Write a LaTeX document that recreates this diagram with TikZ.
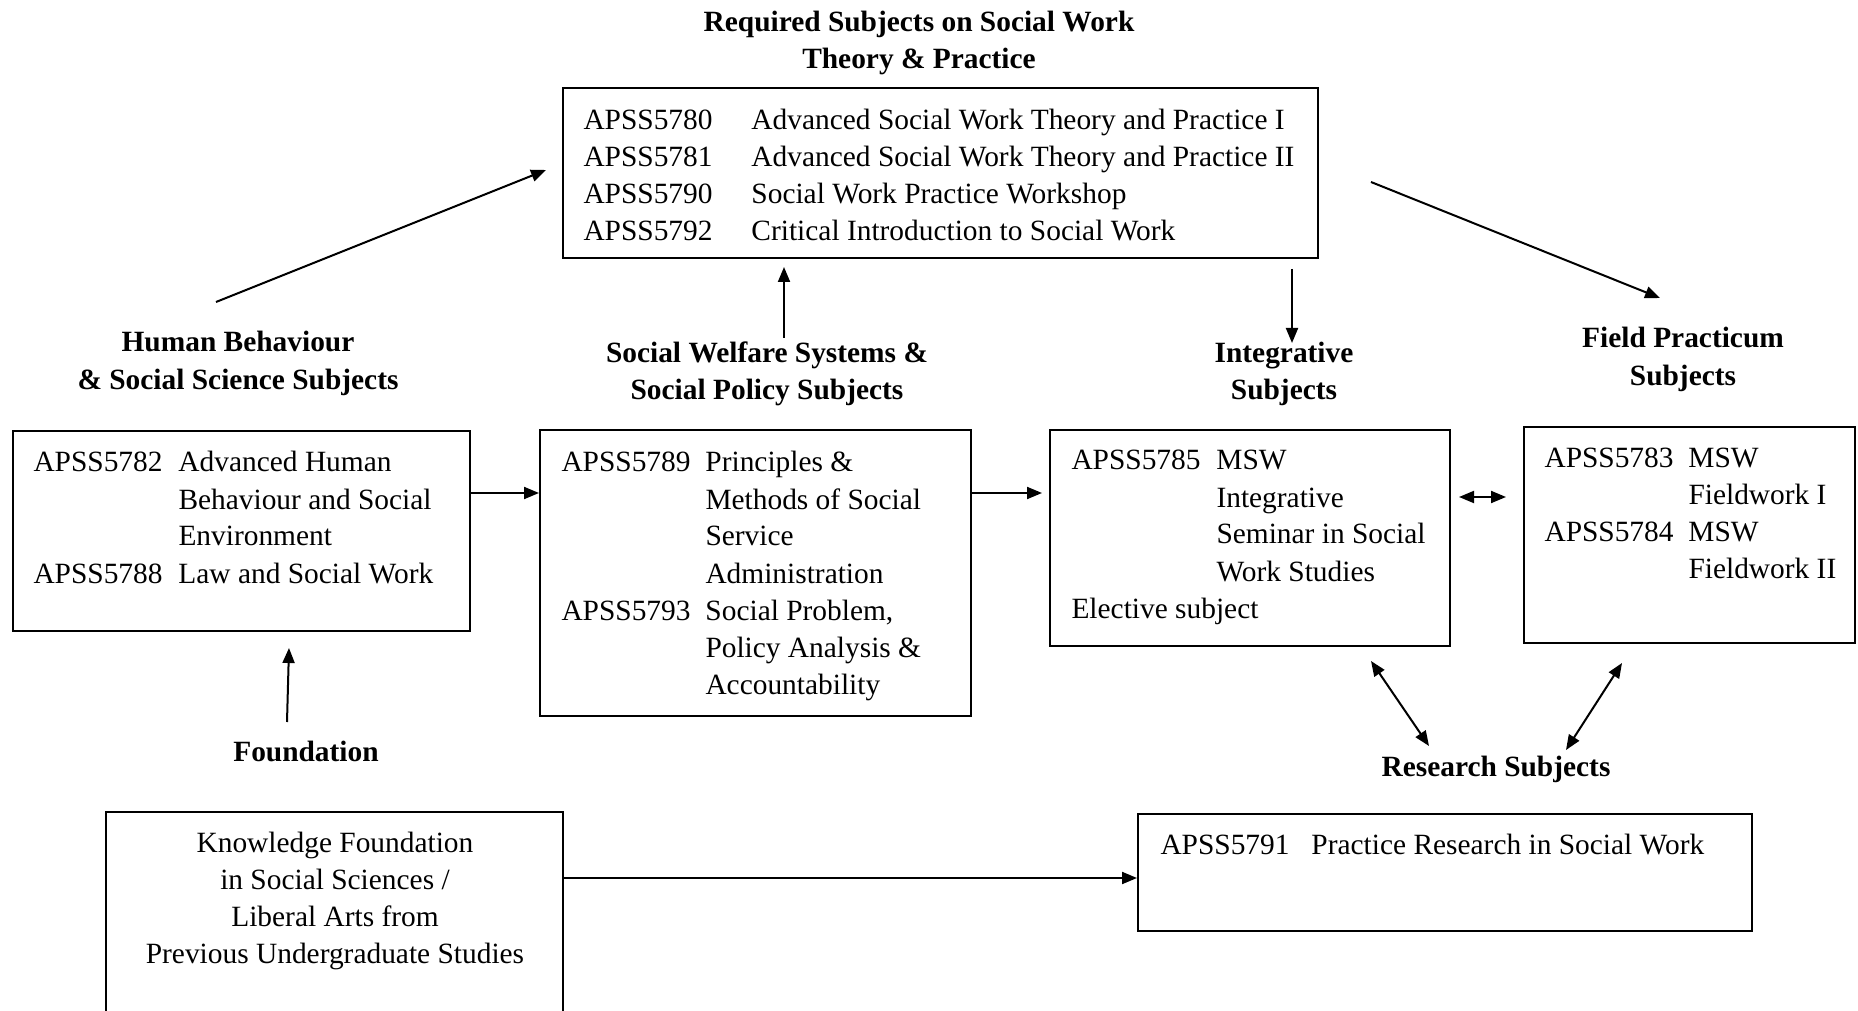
\documentclass[tikz,border=0pt]{standalone}
\usepackage{fontspec}
\setmainfont{Liberation Serif}
\usetikzlibrary{arrows.meta,fit}
\newcommand\myfs{\fontsize{11.76pt}{14.8pt}\selectfont}
\begin{document}
\begin{tikzpicture}[x=0.4pt,y=-0.4pt,
  box/.style={draw,line width=0.8pt,inner sep=0pt},
  arr/.style={line width=0.8pt,-{Triangle[length=6pt,width=4.8pt]}},
  darr/.style={line width=0.8pt,{Triangle[length=6pt,width=4.8pt]}-{Triangle[length=6pt,width=4.8pt]}},
  lbl/.style={anchor=base,inner sep=0pt,font=\bfseries\myfs},
  txt/.style={anchor=base west,inner sep=0pt,font=\myfs}]
\useasboundingbox (0,0) rectangle (1858,1011);
\clip (0,0) rectangle (1858,1011);

% ---- boxes ----
\coordinate (topA) at (563,88);   \coordinate (topB) at (1318,258);
\node[box,fit=(topA)(topB)] (top) {};
\coordinate (hbA) at (13,431);    \coordinate (hbB) at (470,631);
\node[box,fit=(hbA)(hbB)] (hb) {};
\coordinate (swA) at (540,430);   \coordinate (swB) at (971,716);
\node[box,fit=(swA)(swB)] (sw) {};
\coordinate (inA) at (1050,430);  \coordinate (inB) at (1450,646);
\node[box,fit=(inA)(inB)] (int) {};
\coordinate (fpA) at (1524,427);  \coordinate (fpB) at (1855,643);
\node[box,fit=(fpA)(fpB)] (fp) {};
\coordinate (rsA) at (1138,814);  \coordinate (rsB) at (1752,931);
\node[box,fit=(rsA)(rsB)] (rs) {};
\coordinate (kfA) at (106,812);   \coordinate (kfB) at (563,1040);
\node[box,fit=(kfA)(kfB)] (kf) {};

% ---- box contents ----
\node[txt] (topT) at (583,130) {\begin{tabular}[t]{@{}p{67.2pt}@{}l@{}}
APSS5780 & Advanced Social Work Theory and Practice I\\
APSS5781 & Advanced Social Work Theory and Practice II\\
APSS5790 & Social Work Practice Workshop\\
APSS5792 & Critical Introduction to Social Work
\end{tabular}};
\node[txt] (hbT) at (33,472) {\begin{tabular}[t]{@{}p{58pt}@{}l@{}}
APSS5782 & Advanced Human\\
 & Behaviour and Social\\
 & Environment\\
APSS5788 & Law and Social Work
\end{tabular}};
\node[txt] (swT) at (561,472) {\begin{tabular}[t]{@{}p{57.6pt}@{}l@{}}
APSS5789 & Principles \&\\
 & Methods of Social\\
 & Service\\
 & Administration\\
APSS5793 & Social Problem,\\
 & Policy Analysis \&\\
 & Accountability
\end{tabular}};
\node[txt] (inT) at (1071,470) {\begin{tabular}[t]{@{}p{58pt}@{}l@{}}
APSS5785 & MSW\\
 & Integrative\\
 & Seminar in Social\\
 & Work Studies\\
\multicolumn{2}{@{}l@{}}{Elective subject}
\end{tabular}};
\node[txt] (fpT) at (1544,467) {\begin{tabular}[t]{@{}p{57.6pt}@{}l@{}}
APSS5783 & MSW\\
 & Fieldwork I\\
APSS5784 & MSW\\
 & Fieldwork II
\end{tabular}};
\node[txt] (rsT) at (1160,854) {\begin{tabular}[t]{@{}p{60.4pt}@{}l@{}}
APSS5791 & Practice Research in Social Work
\end{tabular}};
\node[anchor=base,inner sep=0pt,font=\myfs] (kfT) at (335,852) {\begin{tabular}[t]{@{}c@{}}
Knowledge Foundation\\
in Social Sciences /\\
Liberal Arts from\\
Previous Undergraduate Studies
\end{tabular}};

% ---- bold labels ----
\node[lbl] (Lreq) at (919,32) {\begin{tabular}[t]{@{}c@{}}Required Subjects on Social Work\\Theory \& Practice\end{tabular}};
\node[lbl] (Lhb) at (238,352) {\begin{tabular}[t]{@{}c@{}}Human Behaviour\\\& Social Science Subjects\end{tabular}};
\node[lbl] (Lsw) at (767,363) {\begin{tabular}[t]{@{}c@{}}Social Welfare Systems \&\\Social Policy Subjects\end{tabular}};
\node[lbl] (Lint) at (1284,363) {\begin{tabular}[t]{@{}c@{}}Integrative\\Subjects\end{tabular}};
\node[lbl] (Lfp) at (1683,348) {\begin{tabular}[t]{@{}c@{}}Field Practicum\\Subjects\end{tabular}};
\node[lbl] (Lrs) at (1496,776) {Research Subjects};
\node[lbl] (Lfd) at (306,761) {Foundation};

% ---- arrow end points ----
\coordinate (a1s) at (216,302);  \coordinate (a1e) at (546,170);
\coordinate (a2s) at (784,338);  \coordinate (a2e) at (784,267);
\coordinate (a3s) at (1292,269); \coordinate (a3e) at (1292,343);
\coordinate (a4s) at (1371,182); \coordinate (a4e) at (1660,298);
\coordinate (h1) at (0,493);
\coordinate (a6e) at (1042,493);
\coordinate (a7s) at (1459,497); \coordinate (a7e) at (1506,497);
\coordinate (a8s) at (1371,661); \coordinate (a8e) at (1429,746);
\coordinate (a9s) at (1622,663); \coordinate (a9e) at (1566,750);
\coordinate (a10s) at (287,722); \coordinate (a10e) at (289,648);
\coordinate (h2) at (0,878);

% ---- connectors ----
\draw[arr] (a1s) -- (a1e);
\draw[arr] (a2s) -- (a2e);
\draw[arr] (a3s) -- (a3e);
\draw[arr] (a4s) -- (a4e);
\draw[arr] (hb.east |- h1) -- (sw.west |- h1);
\draw[arr] (sw.east |- h1) -- (a6e);
\draw[darr] (a7s) -- (a7e);
\draw[darr] (a8s) -- (a8e);
\draw[darr] (a9s) -- (a9e);
\draw[arr] (a10s) -- (a10e);
\draw[arr] (kf.east |- h2) -- (rs.west |- h2);
\end{tikzpicture}
\end{document}
